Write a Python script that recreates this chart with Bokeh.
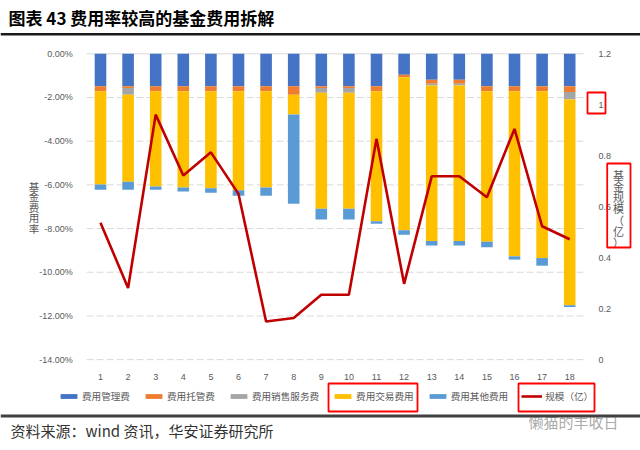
from bokeh.plotting import figure
from bokeh.models import (ColumnDataSource, Range1d, LinearAxis, FixedTicker,
                          PrintfTickFormatter, Legend, LegendItem, BoxAnnotation,
                          Label)
from bokeh.embed import file_html
from bokeh.resources import INLINE

# ---------------- data ----------------
categories = list(range(1, 19))
mgmt_fee = [-1.48, -1.48, -1.48, -1.48, -1.48, -1.48, -1.48, -1.48, -1.48,
            -1.48, -1.48, -0.96, -1.19, -1.19, -1.48, -1.48, -1.48, -1.48]
custody_fee = [-0.24, -0.09, -0.24, -0.24, -0.24, -0.24, -0.24, -0.40, -0.09,
               -0.09, -0.24, -0.11, -0.18, -0.18, -0.24, -0.24, -0.24, -0.27]
sales_fee = [0, -0.31, 0, 0, 0, 0, 0, 0, -0.21,
             -0.21, 0, 0, -0.08, -0.08, 0, 0, 0, -0.34]
trade_fee = [-4.26, -3.98, -4.35, -4.40, -4.44, -4.53, -4.40, -0.90, -5.31,
             -5.31, -5.94, -7.01, -7.12, -7.12, -6.88, -7.55, -7.63, -9.42]
other_fee = [-0.24, -0.36, -0.15, -0.18, -0.20, -0.25, -0.38, -4.08, -0.49,
             -0.49, -0.12, -0.20, -0.20, -0.20, -0.25, -0.15, -0.35, -0.08]
scale = [0.537, 0.281, 0.961, 0.722, 0.813, 0.650, 0.149, 0.163, 0.254,
         0.254, 0.866, 0.297, 0.719, 0.719, 0.637, 0.905, 0.523, 0.472]

series_names = ["费用管理费", "费用托管费", "费用销售服务费", "费用交易费用", "费用其他费用"]
series_colors = ["#4472C4", "#ED7D31", "#A5A5A5", "#FFC000", "#5B9BD5"]
line_name = "规模（亿）"
line_color = "#C00000"

left_ticks = [0, -2, -4, -6, -8, -10, -12, -14]
right_ticks = [0, 0.2, 0.4, 0.6, 0.8, 1, 1.2]

title_text = "图表 43  费用率较高的基金费用拆解"
source_text = "资料来源：wind 资讯，华安证券研究所"
watermark_text = "懒猫的丰收日"
left_title = "基金费用率"
right_title = "基金规模（亿）"

# ---------------- figure ----------------
FONT = "Noto Sans CJK SC"
GRAY = "#595959"
W, H = 640, 450

src = ColumnDataSource(dict(x=categories, mgmt=mgmt_fee, cust=custody_fee,
                            sales=sales_fee, trade=trade_fee, other=other_fee,
                            scale=scale))

# the frame covers the whole canvas; axes are pinned inside it
p = figure(width=W, height=H,
           x_range=Range1d(-2.623, 20.565), y_range=Range1d(-18.16, 2.44),
           x_axis_type=None, y_axis_type=None,
           output_backend="svg", toolbar_location=None,
           min_border=0, min_border_left=0, min_border_right=0,
           min_border_top=0, min_border_bottom=0)
p.outline_line_color = None
p.background_fill_color = "white"
p.border_fill_color = "white"
p.extra_y_ranges = {"right": Range1d(-0.357, 1.409)}

x_lo, x_hi = categories[0] - 0.5, categories[-1] + 0.5

# gridlines
grid_y = [t for t in left_ticks if t != 0]
p.segment(x0=[x_lo] * len(grid_y), x1=[x_hi] * len(grid_y), y0=grid_y, y1=grid_y,
          line_color="#D9D9D9", line_width=1, line_dash="7 3")
p.segment(x0=[x_lo], x1=[x_hi], y0=[0], y1=[0], line_color="#D9D9D9", line_width=1)

bars = p.vbar_stack(["mgmt", "cust", "sales", "trade", "other"], x="x",
                    width=0.42, color=series_colors, line_color=None, source=src)
ln = p.line("x", "scale", source=src, y_range_name="right",
            line_color=line_color, line_width=2.6)

def style_axis(ax, standoff):
    ax.axis_line_color = None
    ax.major_tick_line_color = None
    ax.minor_tick_line_color = None
    ax.major_label_text_color = GRAY
    ax.major_label_text_font = "Liberation Sans"
    ax.major_label_text_font_size = "9px"
    ax.major_label_standoff = standoff

la = LinearAxis(fixed_location=x_lo, bounds=(left_ticks[-1], left_ticks[0]),
                ticker=FixedTicker(ticks=left_ticks),
                formatter=PrintfTickFormatter(format="%.2f%%"))
style_axis(la, 8)
p.add_layout(la, "left")

ba = LinearAxis(fixed_location=left_ticks[-1], bounds=(x_lo, x_hi),
                ticker=FixedTicker(ticks=categories))
style_axis(ba, 8)
p.add_layout(ba, "below")

ra = LinearAxis(y_range_name="right", fixed_location=x_hi,
                bounds=(right_ticks[0], right_ticks[-1]),
                ticker=FixedTicker(ticks=right_ticks),
                major_label_overrides={0: "0", 1: "1"})
style_axis(ra, 9)
p.add_layout(ra, "right")

# legend
items = [LegendItem(label=n, renderers=[r]) for n, r in zip(series_names, bars)]
items.append(LegendItem(label=line_name, renderers=[ln]))
legend = Legend(items=items, orientation="horizontal", location=(58, 47),
                glyph_width=21, glyph_height=6, label_height=12, label_standoff=3,
                spacing=13, padding=0, margin=0, border_line_color=None,
                background_fill_alpha=0, label_text_font=FONT,
                label_text_font_size="9.6px", label_text_color=GRAY)
p.add_layout(legend, "center")

# text annotations in canvas pixels (x from left, y from top)
def lab(text, x, y_top, size, color, style="normal", align="left"):
    p.add_layout(Label(x=x, y=H - y_top, x_units="screen", y_units="screen",
                       text=text, text_font=FONT, text_font_size=size,
                       text_color=color, text_font_style=style,
                       text_align=align, text_baseline="middle"))

lab(title_text, 8, 17, "17px", "#000000", style="bold")
lab(source_text, 10, 430, "15px", "#333333")
lab(watermark_text, 528, 421, "15px", "#AAAAAA")

for i, ch in enumerate(left_title):
    lab(ch, 33.5, 185.5 + 10.5 * i, "10.5px", GRAY, align="center")
for i, ch in enumerate(right_title):
    lab(ch, 618, 174 + 11.3 * i, "11px", GRAY, align="center")

def box(l, r, t, b, color, width=1.8, fill=None):
    p.add_layout(BoxAnnotation(left=l, right=r, top=H - t, bottom=H - b,
                               left_units="screen", right_units="screen",
                               top_units="screen", bottom_units="screen",
                               fill_color=fill, fill_alpha=1 if fill else 0,
                               line_color=color, line_alpha=1, line_width=width))

# horizontal rules
box(0, 640, 32.5, 35, None, width=0, fill="#1A1A1A")
box(0, 640, 414, 417, None, width=0, fill="#404040")
# red highlight boxes
box(587, 605, 92, 113, "#FF0000")
box(606.7, 630, 163, 247, "#FF0000")
box(328, 417, 383, 411, "#FF0000")
box(518, 594, 383, 411, "#FF0000")

open("out.html", "w").write(file_html(p, INLINE))
